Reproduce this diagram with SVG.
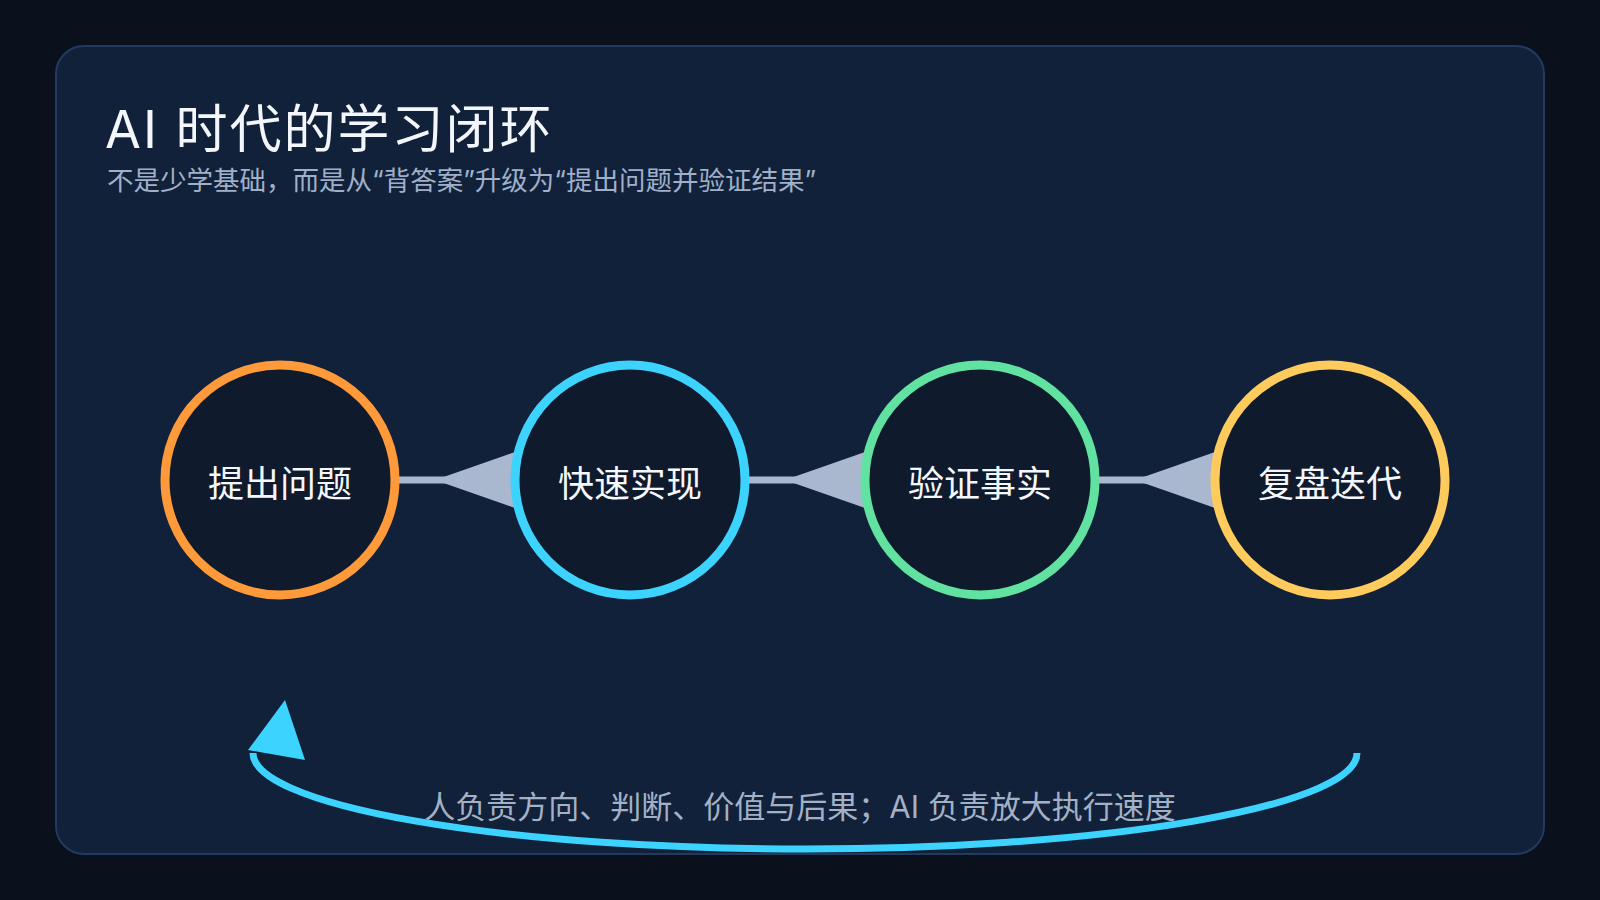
<svg xmlns="http://www.w3.org/2000/svg" width="1600" height="900" viewBox="0 0 1600 900">
  <defs>
    <style>
      .title { font-family: Inter, "Noto Sans CJK SC", sans-serif; font-size: 52px; fill: #f3f6fb; letter-spacing: 2px; }
      .sub { font-family: Inter, "Noto Sans CJK SC", sans-serif; font-size: 26.5px; fill: #9fb0c8; }
      .foot { font-family: Inter, "Noto Sans CJK SC", sans-serif; font-size: 31px; fill: #a3b1c6; }
      .node circle { fill: #0f1a2c; stroke-width: 9; }
      .node text { font-family: Inter, "Noto Sans CJK SC", sans-serif; font-size: 36px; fill: #f4f7fb; text-anchor: middle; font-weight: 400; }
      .conn line { stroke: #a9b7cf; stroke-width: 7; }
      .conn polygon.head { fill: #a9b7cf; }
    </style>
  </defs>
  <rect x="0" y="0" width="1600" height="900" fill="#0a111d"/>
  <rect x="56" y="46" width="1488" height="808" rx="28" ry="28" fill="#12213a" stroke="#213a5e" stroke-width="2"/>

  <text class="title" x="105" y="148">AI 时代的学习闭环</text>
  <text class="sub" x="107" y="190">不是少学基础，而是从“背答案”升级为“提出问题并验证结果”</text>

  <g id="connectors" class="conn">
    <line x1="398" y1="480" x2="515" y2="480"/>
    <polygon class="head" points="435,480 515,452 515,508"/>
    <line x1="748" y1="480" x2="865" y2="480"/>
    <polygon class="head" points="785,480 865,452 865,508"/>
    <line x1="1098" y1="480" x2="1215" y2="480"/>
    <polygon class="head" points="1135,480 1215,452 1215,508"/>
    <path d="M 1357 753 A 552 96 0 0 1 253 753" fill="none" stroke="#3dd3ff" stroke-width="7"/>
    <polygon points="285,700 248,750 305,760" fill="#3dd3ff"/>
  </g>

  <g id="node-ask" class="node">
    <circle cx="280" cy="480" r="115" stroke="#ff9a3a"/>
    <text x="280" y="497">提出问题</text>
  </g>
  <g id="node-build" class="node">
    <circle cx="630" cy="480" r="115" stroke="#3dd3ff"/>
    <text x="630" y="497">快速实现</text>
  </g>
  <g id="node-verify" class="node">
    <circle cx="980" cy="480" r="115" stroke="#62e2a0"/>
    <text x="980" y="497">验证事实</text>
  </g>
  <g id="node-review" class="node">
    <circle cx="1330" cy="480" r="115" stroke="#ffcb5c"/>
    <text x="1330" y="497">复盘迭代</text>
  </g>

  <text class="foot" x="800" y="818" text-anchor="middle">人负责方向、判断、价值与后果；AI 负责放大执行速度</text>
</svg>
